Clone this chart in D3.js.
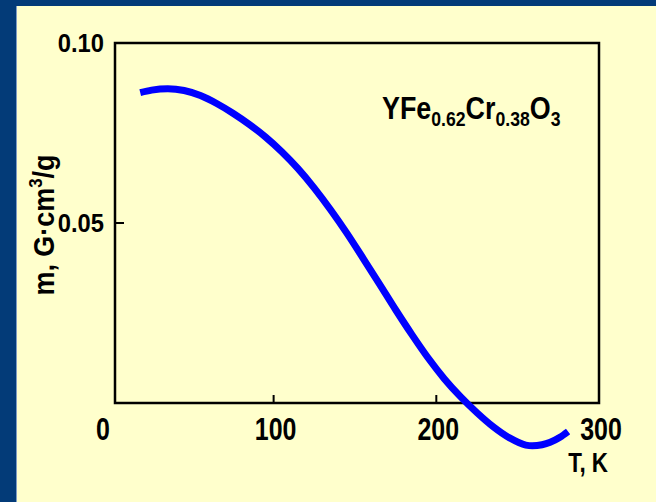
<!DOCTYPE html>
<html><head><meta charset="utf-8">
<script src="https://cdn.jsdelivr.net/npm/d3@7"></script>
<style>html,body{margin:0;padding:0;background:#ffffcc;overflow:hidden} svg{display:block}</style>
</head><body>
<svg id="c" width="656" height="502"></svg>
<script>
// ---- data ----
const temperature = [18, 25, 35, 45, 55, 65, 75, 85, 95, 105, 115, 125, 135, 145, 155, 165, 175, 185, 195, 205, 215, 225, 235, 245, 255, 259, 265, 270, 276, 281];
const moment      = [0.0862, 0.0869, 0.0873, 0.0868, 0.0854, 0.0832, 0.0805, 0.0774, 0.0739, 0.0698, 0.0651, 0.0597, 0.0537, 0.0472, 0.0402, 0.0331, 0.0259, 0.0190, 0.0125, 0.0067, 0.0017, -0.0027, -0.0066, -0.0097, -0.0117, -0.0119, -0.0116, -0.0109, -0.0095, -0.0079];
const xTickValues = [0, 100, 200, 300];
const xTickLabels = ["0", "100", "200", "300"];
const yTickValues = [0.05, 0.10];
const yTickLabels = ["0.05", "0.10"];
const xDomain = [2.5, 300];
const yDomain = [0, 0.10];

const svg = d3.select("#c");
const W = 656, H = 502;
const FONT = "'Liberation Sans', Arial, Helvetica, sans-serif";

// frame
svg.append("rect").attr("x",0).attr("y",0).attr("width",W).attr("height",H).attr("fill","#033b78");
svg.append("rect").attr("x",16).attr("y",6).attr("width",W-16).attr("height",H-6).attr("fill","#ffffcc");
svg.append("line").attr("x1",16.5).attr("x2",16.5).attr("y1",6).attr("y2",H).attr("stroke","#7f9cc4").attr("stroke-width",1);

const x = d3.scaleLinear().domain(xDomain).range([115, 599]);
const y = d3.scaleLinear().domain(yDomain).range([403, 43]);

// plot box
svg.append("rect")
  .attr("x", x(xDomain[0])).attr("y", y(yDomain[1]))
  .attr("width", x(xDomain[1]) - x(xDomain[0])).attr("height", y(yDomain[0]) - y(yDomain[1]))
  .attr("fill","none").attr("stroke","#000").attr("stroke-width",2.5);

// inward ticks
svg.selectAll("line.xt").data(xTickValues.filter(v => v > xDomain[0] && v < xDomain[1])).enter()
  .append("line").attr("class","xt")
  .attr("x1", d => x(d)).attr("x2", d => x(d))
  .attr("y1", y(0)).attr("y2", y(0) - 8)
  .attr("stroke","#000").attr("stroke-width",2);
svg.selectAll("line.yt").data(yTickValues.filter(v => v < yDomain[1])).enter()
  .append("line").attr("class","yt")
  .attr("x1", x(xDomain[0])).attr("x2", x(xDomain[0]) + 9)
  .attr("y1", d => y(d)).attr("y2", d => y(d))
  .attr("stroke","#000").attr("stroke-width",2);

function ctext(tx, ty, str, size, anchor, sx, rot) {
  return svg.append("text")
    .attr("transform", `translate(${tx},${ty})` + (rot ? ` rotate(${rot})` : "") + ` scale(${sx},1)`)
    .attr("text-anchor", anchor)
    .attr("font-family", FONT).attr("font-size", size).attr("font-weight", "bold")
    .attr("fill", "#000")
    .text(str);
}

// x tick labels
xTickValues.forEach((v, i) => {
  const dx = v === 0 ? -8 : 2;
  ctext(x(v) + dx, 440, xTickLabels[i], 32, "middle", 0.78);
});
// y tick labels
yTickValues.forEach((v, i) => {
  ctext(104, y(v) + 9, yTickLabels[i], 25, "end", 0.95);
});

// axis titles
ctext(608, 472, "T, K", 28, "end", 0.8);
const yt = svg.append("text")
  .attr("transform", "translate(54,225) rotate(-90) scale(0.93,1)")
  .attr("text-anchor","middle")
  .attr("font-family", FONT).attr("font-size", 29).attr("font-weight","bold").attr("fill","#000");
yt.append("tspan").text("m,  G·cm");
yt.append("tspan").attr("font-size", 18).attr("dy", -12).text("3");
yt.append("tspan").attr("dy", 12).text("/g");

// formula
const ft = svg.append("text")
  .attr("transform", "translate(382,119) scale(0.84,1)")
  .attr("font-family", FONT).attr("font-size", 32).attr("font-weight","bold").attr("fill","#000");
ft.append("tspan").text("YFe");
ft.append("tspan").attr("font-size", 21).attr("dy", 7).text("0.62");
ft.append("tspan").attr("dy", -7).text("Cr");
ft.append("tspan").attr("font-size", 21).attr("dy", 7).text("0.38");
ft.append("tspan").attr("dy", -7).text("O");
ft.append("tspan").attr("font-size", 21).attr("dy", 7).text("3");

// curve
const pts = temperature.map((t, i) => [t, moment[i]]);
const line = d3.line().x(d => x(d[0])).y(d => y(d[1])).curve(d3.curveMonotoneX);
svg.append("path").datum(pts)
  .attr("d", line)
  .attr("fill","none").attr("stroke","#0000ff").attr("stroke-width",7).attr("stroke-linecap","butt");
</script>
</body></html>
